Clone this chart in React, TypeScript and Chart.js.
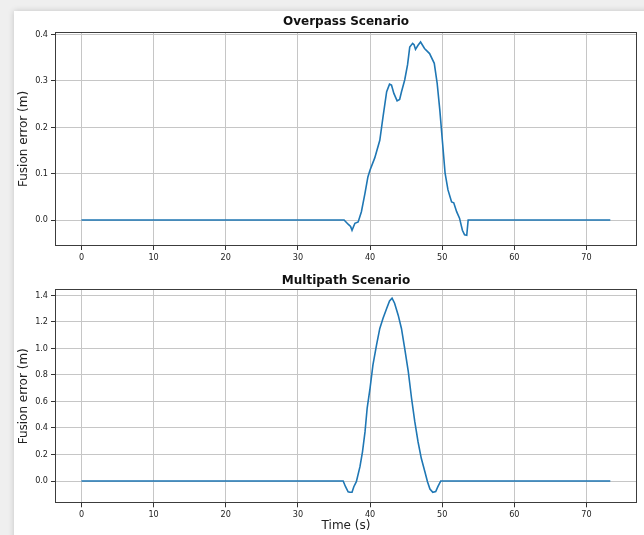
import React, { useEffect, useRef } from 'react';
import { Chart, registerables } from 'chart.js';

Chart.register(...registerables);

// ---- Data ----
const overpassTime = [0, 36.4, 36.96, 37.3, 37.5, 37.9, 38.35, 38.8, 39.3, 39.7, 40.0, 40.65, 41.35, 41.8, 42.3, 42.7, 42.97, 43.3, 43.75, 44.1, 44.35, 44.8, 45.2, 45.5, 45.9, 46.1, 46.3, 46.65, 47.0, 47.55, 48.25, 48.9, 49.3, 49.67, 50.05, 50.4, 50.8, 51.3, 51.6, 52.0, 52.4, 52.8, 53.1, 53.4, 53.6, 73.3];
const overpassError = [0, 0, -0.009, -0.014, -0.022, -0.007, -0.004, 0.018, 0.058, 0.093, 0.108, 0.134, 0.172, 0.223, 0.277, 0.293, 0.291, 0.273, 0.257, 0.26, 0.276, 0.302, 0.335, 0.373, 0.381, 0.378, 0.368, 0.377, 0.384, 0.37, 0.359, 0.338, 0.295, 0.237, 0.166, 0.101, 0.065, 0.039, 0.037, 0.018, 0.004, -0.022, -0.032, -0.033, 0.0, 0];

const multipathTime = [0, 36.27, 36.6, 36.96, 37.2, 37.5, 37.75, 38.1, 38.6, 38.95, 39.3, 39.6, 40.0, 40.4, 40.9, 41.35, 41.8, 42.3, 42.7, 43.05, 43.4, 43.9, 44.35, 44.8, 45.3, 45.75, 46.2, 46.65, 47.1, 47.6, 47.96, 48.3, 48.7, 49.1, 49.4, 49.8, 73.3];
const multipathError = [0, 0, -0.043, -0.081, -0.085, -0.085, -0.043, -0.005, 0.108, 0.22, 0.37, 0.55, 0.7, 0.875, 1.026, 1.15, 1.227, 1.3, 1.357, 1.378, 1.34, 1.25, 1.15, 1.0, 0.824, 0.624, 0.447, 0.296, 0.171, 0.07, -0.005, -0.06, -0.085, -0.08, -0.043, 0, 0];

const xTicks = [0, 10, 20, 30, 40, 50, 60, 70];
const overpassYTicks = [0, 0.1, 0.2, 0.3, 0.4];
const multipathYTicks = [0, 0.2, 0.4, 0.6, 0.8, 1.0, 1.2, 1.4];

const xRange = [-3.67, 77.0];
const overpassYRange = [-0.056, 0.4055];
const multipathYRange = [-0.168, 1.445];

const titles = ['Overpass Scenario', 'Multipath Scenario'];
const yTitle = 'Fusion error (m)';
const xTitle = 'Time (s)';

// ---- Styles ----
const COND = "'DejaVu Sans Condensed', 'DejaVu Sans', sans-serif";
const REG = "'DejaVu Sans', sans-serif";
const LINE = '#1f77b4';
const GRID = '#c6c6c6';
const TEXT = '#222';

// Frame around the plotting area (matplotlib spines) + panel title centred over the axes
const panelPlugin = {
  id: 'panel',
  afterDatasetsDraw(chart: any, _args: any, opts: any) {
    const { ctx, chartArea: a } = chart;
    ctx.save();
    ctx.strokeStyle = '#3c3c3c';
    ctx.lineWidth = 1;
    ctx.strokeRect(
      Math.round(a.left) + 0.5,
      Math.round(a.top) + 0.5,
      Math.round(a.right - a.left) - 1,
      Math.round(a.bottom - a.top) - 1
    );
    if (opts && opts.text) {
      ctx.fillStyle = '#111';
      ctx.font = `bold 12px ${REG}`;
      ctx.textAlign = 'center';
      ctx.textBaseline = 'middle';
      ctx.fillText(opts.text, (a.left + a.right) / 2, opts.y);
    }
    ctx.restore();
  },
};

function buildConfig(p: {
  time: number[];
  err: number[];
  yTicks: number[];
  yRange: number[];
  title: string;
  titleY: number;
  padTop: number;
  xScaleHeight: number;
  showXTitle: boolean;
}) {
  return {
    type: 'line',
    data: {
      datasets: [
        {
          data: p.time.map((t, i) => ({ x: t, y: p.err[i] })),
          borderColor: LINE,
          borderWidth: 1.6,
          pointRadius: 0,
          tension: 0,
          fill: false,
        },
      ],
    },
    options: {
      responsive: false,
      animation: false,
      devicePixelRatio: 1,
      layout: { padding: { left: 14, right: 7, top: p.padTop, bottom: 0 } },
      plugins: {
        legend: { display: false },
        tooltip: { enabled: false },
        title: { display: false },
        panel: { text: p.title, y: p.titleY },
      },
      scales: {
        x: {
          type: 'linear',
          min: xRange[0],
          max: xRange[1],
          afterBuildTicks: (axis: any) => {
            axis.ticks = xTicks.map((v) => ({ value: v }));
          },
          afterFit: (scale: any) => {
            scale.height = p.xScaleHeight;
          },
          grid: {
            color: GRID,
            lineWidth: 1,
            drawTicks: true,
            tickLength: 4,
            tickColor: '#333',
          },
          border: { display: false },
          ticks: {
            color: TEXT,
            padding: 2,
            maxRotation: 0,
            autoSkip: false,
            font: { family: COND, size: 9 },
            callback: (v: any) => String(Math.round(Number(v))),
          },
          title: {
            display: p.showXTitle,
            text: xTitle,
            color: TEXT,
            font: { family: REG, size: 12 },
            padding: { top: 0, bottom: 2 },
          },
        },
        y: {
          type: 'linear',
          min: p.yRange[0],
          max: p.yRange[1],
          afterBuildTicks: (axis: any) => {
            axis.ticks = p.yTicks.map((v) => ({ value: v }));
          },
          afterFit: (scale: any) => {
            scale.width = 41;
          },
          grid: {
            color: GRID,
            lineWidth: 1,
            drawTicks: true,
            tickLength: 4,
            tickColor: '#333',
          },
          border: { display: false },
          ticks: {
            color: TEXT,
            padding: 3,
            autoSkip: false,
            font: { family: COND, size: 9 },
            callback: (v: any) => Number(v).toFixed(1),
          },
          title: {
            display: true,
            text: yTitle,
            color: TEXT,
            font: { family: REG, size: 12 },
            padding: { top: 3, bottom: 3 },
          },
        },
      },
    },
    plugins: [panelPlugin],
  };
}

export default function App() {
  const topRef = useRef<HTMLCanvasElement | null>(null);
  const botRef = useRef<HTMLCanvasElement | null>(null);

  useEffect(() => {
    const c1 = new Chart(
      topRef.current as HTMLCanvasElement,
      buildConfig({
        time: overpassTime,
        err: overpassError,
        yTicks: overpassYTicks,
        yRange: overpassYRange,
        title: titles[0],
        titleY: 21.5,
        padTop: 32,
        xScaleHeight: 22,
        showXTitle: false,
      }) as any
    );
    const c2 = new Chart(
      botRef.current as HTMLCanvasElement,
      buildConfig({
        time: multipathTime,
        err: multipathError,
        yTicks: multipathYTicks,
        yRange: multipathYRange,
        title: titles[1],
        titleY: 12.5,
        padTop: 21.3,
        xScaleHeight: 31.7,
        showXTitle: true,
      }) as any
    );
    return () => {
      c1.destroy();
      c2.destroy();
    };
  }, []);

  return (
    <div
      style={{
        position: 'fixed',
        left: 0,
        top: 0,
        width: 644,
        height: 535,
        background: '#efefef',
        overflow: 'hidden',
      }}
    >
      <div
        style={{
          position: 'absolute',
          left: 14,
          top: 11,
          width: 640,
          height: 540,
          background: '#ffffff',
          boxShadow: '0 0 6px rgba(0,0,0,0.18)',
        }}
      />
      <canvas
        ref={topRef}
        width={644}
        height={268}
        style={{ position: 'absolute', left: 0, top: 0, width: 644, height: 268 }}
      />
      <canvas
        ref={botRef}
        width={644}
        height={267}
        style={{ position: 'absolute', left: 0, top: 268, width: 644, height: 267 }}
      />
    </div>
  );
}
